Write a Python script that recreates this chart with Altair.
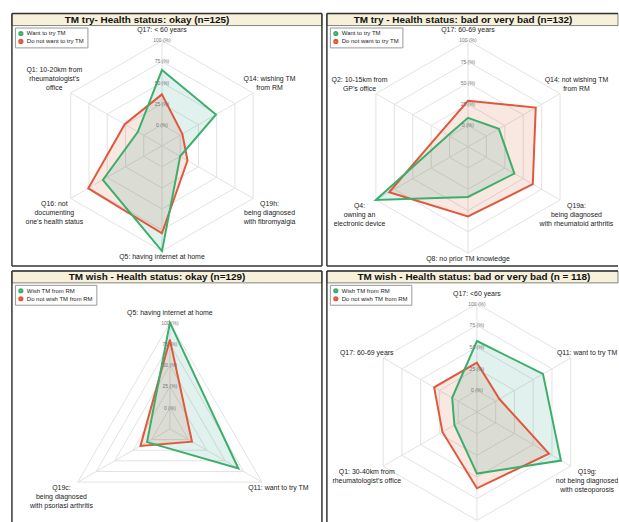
import altair as alt
import pandas as pd

FONT = "Liberation Sans"

# ---------------- data ----------------
p1_title = "TM try- Health status: okay (n=125)"
p1_series = ["Want to try TM", "Do not want to try TM"]
p1_axes = ["Q17: < 60 years", "Q14: wishing TM\nfrom RM", "Q19h:\nbeing diagnosed\nwith fibromyalgia",
           "Q5: having internet at home", "Q16: not\ndocumenting\none's health status",
           "Q1: 10-20km from\nrheumatologist's\noffice"]
p1_green = [65, 49, 0, 100, 56, 8]
p1_red = [36, 3, 10, 79, 76, 26]

p2_title = "TM try - Health status: bad or very bad (n=132)"
p2_series = ["Want to try TM", "Do not want to try TM"]
p2_axes = ["Q17: 60-69 years", "Q14: not wishing TM\nfrom RM", "Q19a:\nbeing diagnosed\nwith rheumatoid arthritis",
           "Q8: no prior TM knowledge", "Q4:\nowning an\nelectronic device", "Q2: 10-15km from\nGP's office"]
p2_green = [9, 17, 38, 34, 100, 2]
p2_red = [29, 67, 63, 57, 82, 11]

p3_title = "TM wish - Health status: okay (n=129)"
p3_series = ["Wish TM from RM", "Do not wish TM from RM"]
p3_axes = ["Q5: having internet at home", "Q11: want to try TM",
           "Q19c:\nbeing diagnosed\nwith psoriasi arthritis"]
p3_green = [100, 68, 6]
p3_red = [80, 5, 15]

p4_title = "TM wish - Health status: bad or very bad (n = 118)"
p4_series = ["Wish TM from RM", "Do not wish TM from RM"]
p4_axes = ["Q17: <60 years", "Q11: want to try TM", "Q19g:\nnot being diagnosed\nwith osteoporosis",
           "Q16: not documenting one's health status", "Q1: 30-40km from\nrheumatologist's office",
           "Q17: 60-69 years"]
p4_green = [57, 63, 87, 46, 5, 8]
p4_red = [32, 5, 71, 63, 21, 32]

ring_ticks = [0, 25, 50, 75, 100]
r_min, r_max = -25, 100

# ---------------- style ----------------
GREEN = "#3cae6c"
RED = "#e0583c"
GREEN_FILL = "#2a9b8a"
RED_FILL = "#d7522a"
GRID = "#e2e2e2"
BORDER = "#333"
LH = 9  # label line height (px)


def panel(title, series, axes, green, red, W, H, cx, cy, R, title_x, right_border, bottom_border):
    n = len(axes)
    rows = []
    for i, a in enumerate(axes):
        rows.append({"idx": i, "n": n, "axis": a, "series": series[1], "value": red[i]})
        rows.append({"idx": i, "n": n, "axis": a, "series": series[0], "value": green[i]})
    df = pd.DataFrame(rows)
    ax_df = pd.DataFrame({"idx": list(range(n)), "n": [n] * n, "axis": axes,
                          "nl": [a.count("\n") + 1 for a in axes]})
    grid_df = pd.DataFrame([{"ring": r, "idx": i, "n": n} for r in ring_ticks for i in range(n)])
    tick_df = pd.DataFrame({"ring": ring_ticks, "label": [f"{r} (%)" for r in ring_ticks]})
    title_df = pd.DataFrame({"t": [title]})

    span = r_max - r_min
    xs = alt.Scale(domain=[-cx / R, (W - cx) / R], nice=False, zero=False)
    ys = alt.Scale(domain=[-(H - cy) / R, cy / R], nice=False, zero=False)
    X = lambda f: alt.X(f"{f}:Q", scale=xs, axis=None)
    Y = lambda f: alt.Y(f"{f}:Q", scale=ys, axis=None)
    theta = "2*PI*datum.idx/datum.n"

    grid = alt.Chart(grid_df).transform_calculate(
        rr=f"(datum.ring - ({r_min}))/{span}"
    ).transform_calculate(
        x=f"datum.rr*sin({theta})", y=f"datum.rr*cos({theta})"
    ).mark_line(interpolate="linear-closed", color=GRID, strokeWidth=1).encode(
        x=X("x"), y=Y("y"), detail="ring:N", order="idx:Q"
    )

    spokes = alt.Chart(ax_df).transform_calculate(
        x=f"sin({theta})", y=f"cos({theta})", x0="0", y0="0"
    ).mark_rule(color=GRID, strokeWidth=1).encode(
        x=X("x0"), y=Y("y0"), x2="x:Q", y2="y:Q"
    )

    ticks = alt.Chart(tick_df).transform_calculate(
        y=f"(datum.ring - ({r_min}))/{span}", x="0"
    ).mark_text(font=FONT, fontSize=5, color="#777", clip=True).encode(
        x=X("x"), y=Y("y"), text="label:N"
    )

    base = alt.Chart(df).transform_calculate(
        rr=f"(datum.value - ({r_min}))/{span}"
    ).transform_calculate(
        x=f"datum.rr*sin({theta})", y=f"datum.rr*cos({theta})"
    )

    fills = base.mark_line(interpolate="linear-closed", filled=True, fillOpacity=0.14,
                           strokeOpacity=0).encode(
        x=X("x"), y=Y("y"), order="idx:Q",
        fill=alt.Fill("series:N", scale=alt.Scale(domain=series, range=[GREEN_FILL, RED_FILL]),
                      legend=None),
    )

    lines = base.mark_line(interpolate="linear-closed", strokeWidth=2).encode(
        x=X("x"), y=Y("y"), order="idx:Q",
        color=alt.Color("series:N", scale=alt.Scale(domain=series, range=[GREEN, RED]),
                        legend=alt.Legend(title=None, orient="none", legendX=3, legendY=14,
                                          symbolType="circle", symbolSize=5, symbolStrokeWidth=3,
                                          labelFont=FONT, labelFontSize=6, labelColor="#222",
                                          strokeColor="#999", fillColor="white", padding=3,
                                          rowPadding=2, labelOffset=3, labelLimit=200,
                                          clipHeight=6)),
    )

    ox = 16.5 / R
    lab_base = alt.Chart(ax_df).transform_calculate(
        s=f"sin({theta})", c=f"cos({theta})"
    ).transform_calculate(
        lx=f"datum.s + (datum.s > 0.1 ? {ox} : datum.s < -0.1 ? {-ox} : 0)",
        ly=(f"datum.c + (datum.c > 0.99 ? {7 / R} : datum.c < -0.99 ? {-2 / R} : "
            f"datum.c > 0 ? ({2} + (datum.nl - 1)*{LH})/{R} : {-2 / R})"),
    )
    lab_up = lab_base.transform_filter("datum.c > 0.01").mark_text(
        font=FONT, fontSize=7, color="#222", baseline="bottom", align="center",
        lineBreak="\n", lineHeight=LH, clip=True
    ).encode(x=X("lx"), y=Y("ly"), text="axis:N")
    lab_dn = lab_base.transform_filter("datum.c <= 0.01").mark_text(
        font=FONT, fontSize=7, color="#222", baseline="top", align="center",
        lineBreak="\n", lineHeight=LH, clip=True
    ).encode(x=X("lx"), y=Y("ly"), text="axis:N")

    bar = alt.Chart(title_df).mark_rect(fill="#f7f1dc", stroke="#666", strokeWidth=0.8).encode(
        x=alt.value(0), x2=alt.value(W), y=alt.value(0), y2=alt.value(12)
    )
    ttl = alt.Chart(title_df).mark_text(font=FONT, fontSize=10, fontWeight="bold", color="#111").encode(
        x=alt.value(title_x), y=alt.value(6.5), text="t:N"
    )

    frame = [
        alt.Chart(title_df).mark_rule(color=BORDER, strokeWidth=1.5).encode(
            x=alt.value(0), y=alt.value(0), y2=alt.value(H)),
        alt.Chart(title_df).mark_rule(color=BORDER, strokeWidth=1.5).encode(
            x=alt.value(0), x2=alt.value(W), y=alt.value(0)),
    ]
    if right_border:
        frame.append(alt.Chart(title_df).mark_rule(color=BORDER, strokeWidth=1.5).encode(
            x=alt.value(W), y=alt.value(0), y2=alt.value(H)))
    if bottom_border:
        frame.append(alt.Chart(title_df).mark_rule(color=BORDER, strokeWidth=1.5).encode(
            x=alt.value(0), x2=alt.value(W), y=alt.value(H)))

    return alt.layer(grid, spokes, fills, lines, ticks, lab_up, lab_dn, bar, ttl, *frame).properties(
        width=W, height=H
    ).resolve_scale(color="independent", fill="independent")


PAD_L, PAD_T, GAP = 11, 11, 3
W1, H1 = 312, 254
W2 = 619 - PAD_L - W1 - GAP
H2 = 522 - PAD_T - H1 - GAP

c1 = panel(p1_title, p1_series, p1_axes, p1_green, p1_red, W1, H1, 151, 133, 106, 136, True, True)
c2 = panel(p2_title, p2_series, p2_axes, p2_green, p2_red, W2, H1, 142, 134, 107, 137, False, True)
c3 = panel(p3_title, p3_series, p3_axes, p3_green, p3_red, W1, H2, 159, 159, 107, 146, True, False)
c4 = panel(p4_title, p4_series, p4_axes, p4_green, p4_red, W2, H2, 151, 142, 109, 148, False, False)

top = alt.hconcat(c1, c2, spacing=GAP).resolve_scale(x="independent", y="independent",
                                                     color="independent", fill="independent")
bot = alt.hconcat(c3, c4, spacing=GAP).resolve_scale(x="independent", y="independent",
                                                     color="independent", fill="independent")
chart = alt.vconcat(top, bot, spacing=GAP).resolve_scale(
    x="independent", y="independent", color="independent", fill="independent"
).properties(
    padding={"left": PAD_L, "top": PAD_T, "right": 0, "bottom": 0}, background="white"
).configure_view(strokeWidth=0)

chart.save("out.html", embed_options={"renderer": "svg", "actions": False})
